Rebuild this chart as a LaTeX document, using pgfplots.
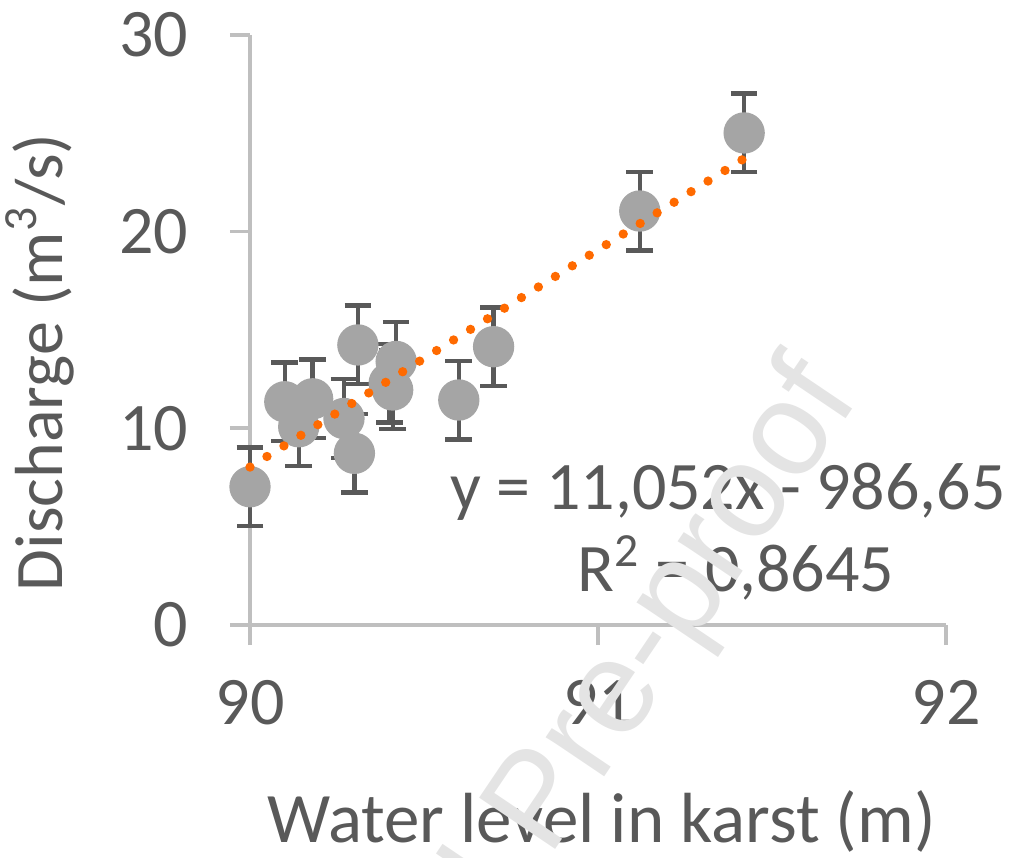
\documentclass[border=0pt]{standalone}
\usepackage{pgfplots}
\pgfplotsset{compat=1.18}
\usepackage{pgfplotstable}
\usepackage{fontspec}
\setmainfont{Carlito}
\newfontfamily\wmfont{Liberation Sans}

\definecolor{txt}{HTML}{595959}
\definecolor{axc}{HTML}{BFBFBF}
\definecolor{markc}{HTML}{A5A5A5}
\definecolor{barc}{HTML}{595959}
\definecolor{trend}{HTML}{FF6A00}
\definecolor{wm}{HTML}{E4E4E4}

% water level (m) vs discharge (m3/s), error +-2
\pgfplotstableread{
x y
90.00 7.03
90.10 11.35
90.14 10.08
90.18 11.50
90.27 10.50
90.30 8.73
90.31 14.24
90.40 12.30
90.41 11.95
90.42 13.40
90.60 11.44
90.70 14.15
91.12 21.05
91.42 25.02
}\datatable

\begin{document}
\begin{tikzpicture}
\begin{axis}[
  set layers,
  scale only axis,
  width=208.8pt, height=177pt,
  xmin=90, xmax=92, ymin=0, ymax=30,
  axis lines=left,
  axis line style={-, axc, line width=1.1pt},
  xtick={90,91,92}, ytick={0,10,20,30},
  tick align=outside, major tick length=6pt,
  tick style={axc, line width=1.1pt},
  /pgf/number format/assume math mode=true,
  ticklabel style={font=\fontsize{20.4}{24}\selectfont, text=txt},
  yticklabel style={xshift=-9pt},
  xticklabel style={yshift=-7pt},
  clip=false,
]
% error bars first, markers on top
\addplot[only marks, mark=none,
  error bars/.cd, y dir=both, y fixed=2,
  error bar style={line width=1.3pt, color=barc},
  error mark options={line width=1.3pt, color=barc, mark size=4pt, rotate=90}]
  table[x=x, y=y] {\datatable};
\addplot[markc, only marks, mark=*, mark size=6pt, mark options={fill=markc, draw=markc}]
  table[x=x, y=y] {\datatable};
% linear trend line
\addplot[on layer=axis foreground, trend, line width=2.8pt, line cap=round, dash pattern=on 0pt off 6pt]
  coordinates {(90,8.03) (91.42,23.72)};

\node[anchor=base west, inner sep=0, text=txt, font=\fontsize{20.4}{24}\selectfont]
  at (axis cs:90.5747,5.85) {y = 11,052x - 986,65};
\node[anchor=base west, inner sep=0, text=txt, font=\fontsize{20.4}{24}\selectfont]
  at (axis cs:90.9397,1.68) {R\textsuperscript{2} = 0,8645};

\node[anchor=base, inner sep=0, text=txt, font=\fontsize{21.3}{24}\selectfont]
  at (axis cs:91.01,-11.08) {Water level in karst (m)};
\node[anchor=base, rotate=90, inner sep=0, text=txt, font=\fontsize{20.4}{24}\selectfont]
  at (axis cs:89.46,13.35) {Discharge (m\textsuperscript{3}/s)};

\coordinate (wmp) at (axis cs:90.86,-11.9);
\coordinate (bl) at (axis cs:89.2816,-11.80);
\coordinate (tr) at (axis cs:92.2069,31.78);
\end{axis}
\node[rotate=56, text=wm, font=\wmfont\fontsize{40}{42}\selectfont, inner sep=0, anchor=base west, name=pp] at (wmp) {Pre-proof};
\node[rotate=56, text=wm, font=\wmfont\fontsize{40}{42}\selectfont, inner sep=0, anchor=base east] at (pp.base west) {Journal\hspace*{0.28em}};
\pgfresetboundingbox
\useasboundingbox (bl) rectangle (tr);
\end{tikzpicture}
\end{document}
